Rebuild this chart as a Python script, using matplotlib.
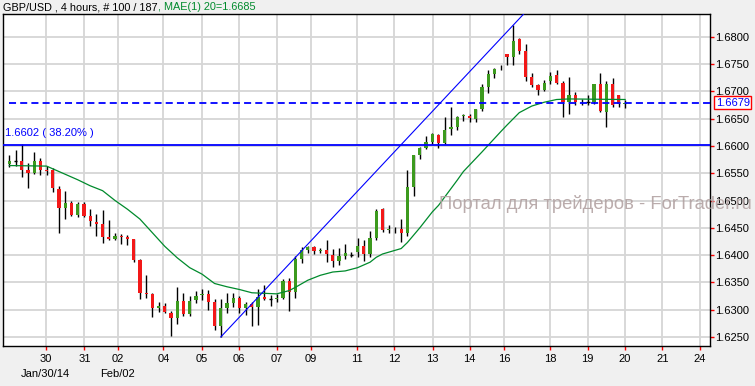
import matplotlib
matplotlib.use('Agg')
import matplotlib.pyplot as plt
import matplotlib.transforms as mtransforms

plt.rcParams['font.family'] = ['Liberation Sans', 'DejaVu Sans']

# 4-hour GBP/USD candles (open, high, low, close), index 0..99
opens = [1.6566, 1.6573, 1.6573, 1.6555, 1.6550, 1.6573, 1.6556, 1.6555, 1.6521, 1.6487,
         1.6496, 1.6474, 1.6494, 1.6472, 1.6461, 1.6457, 1.6434, 1.6430, 1.6435, 1.6434,
         1.6429, 1.6391, 1.6331, 1.6329, 1.6304, 1.6307, 1.6294, 1.6285, 1.6316, 1.6293,
         1.6318, 1.6326, 1.6329, 1.6314, 1.6271, 1.6303, 1.6312, 1.6321, 1.6303, 1.6311,
         1.6305, 1.6323, 1.6319, 1.6319, 1.6321, 1.6352, 1.6332, 1.6393, 1.6410, 1.6414,
         1.6408, 1.6410, 1.6401, 1.6389, 1.6398, 1.6400, 1.6405, 1.6417, 1.6402, 1.6431,
         1.6485, 1.6446, 1.6447, 1.6447, 1.6441, 1.6525, 1.6583, 1.6597, 1.6608, 1.6620,
         1.6606, 1.6631, 1.6635, 1.6654, 1.6655, 1.6650, 1.6667, 1.6708, 1.6731, 1.6742,
         1.6768, 1.6763, 1.6795, 1.6773, 1.6727, 1.6711, 1.6702, 1.6718, 1.6730, 1.6716,
         1.6680, 1.6694, 1.6680, 1.6680, 1.6680, 1.6713, 1.6663, 1.6713, 1.6694, 1.6676]
highs = [1.6584, 1.6593, 1.6604, 1.6569, 1.6589, 1.6578, 1.6563, 1.6559, 1.6527, 1.6518,
         1.6499, 1.6497, 1.6497, 1.6484, 1.6476, 1.6483, 1.6465, 1.6440, 1.6438, 1.6437,
         1.6430, 1.6392, 1.6363, 1.6330, 1.6314, 1.6312, 1.6298, 1.6342, 1.6330, 1.6325,
         1.6335, 1.6337, 1.6336, 1.6320, 1.6320, 1.6330, 1.6331, 1.6325, 1.6315, 1.6314,
         1.6337, 1.6346, 1.6326, 1.6328, 1.6357, 1.6358, 1.6398, 1.6415, 1.6417, 1.6416,
         1.6413, 1.6428, 1.6411, 1.6413, 1.6421, 1.6406, 1.6431, 1.6428, 1.6445, 1.6485,
         1.6487, 1.6455, 1.6452, 1.6467, 1.6556, 1.6584, 1.6598, 1.6619, 1.6623, 1.6622,
         1.6653, 1.6672, 1.6654, 1.6659, 1.6659, 1.6667, 1.6714, 1.6739, 1.6742, 1.6748,
         1.6769, 1.6821, 1.6797, 1.6786, 1.6733, 1.6714, 1.6721, 1.6736, 1.6739, 1.6718,
         1.6727, 1.6699, 1.6686, 1.6694, 1.6714, 1.6733, 1.6719, 1.6725, 1.6694, 1.6684]
lows = [1.6561, 1.6564, 1.6543, 1.6522, 1.6548, 1.6546, 1.6547, 1.6516, 1.6441, 1.6466,
        1.6472, 1.6469, 1.6469, 1.6454, 1.6435, 1.6423, 1.6427, 1.6427, 1.6420, 1.6418,
        1.6388, 1.6319, 1.6322, 1.6287, 1.6296, 1.6294, 1.6252, 1.6274, 1.6288, 1.6288,
        1.6312, 1.6318, 1.6300, 1.6262, 1.6250, 1.6294, 1.6305, 1.6294, 1.6290, 1.6271,
        1.6272, 1.6317, 1.6307, 1.6314, 1.6320, 1.6297, 1.6321, 1.6385, 1.6404, 1.6402,
        1.6404, 1.6387, 1.6379, 1.6381, 1.6393, 1.6396, 1.6396, 1.6389, 1.6397, 1.6428,
        1.6442, 1.6441, 1.6441, 1.6424, 1.6435, 1.6509, 1.6576, 1.6595, 1.6604, 1.6597,
        1.6604, 1.6620, 1.6629, 1.6645, 1.6644, 1.6643, 1.6664, 1.6696, 1.6724, 1.6739,
        1.6748, 1.6748, 1.6769, 1.6718, 1.6708, 1.6693, 1.6700, 1.6714, 1.6713, 1.6653,
        1.6659, 1.6675, 1.6675, 1.6675, 1.6676, 1.6662, 1.6635, 1.6672, 1.6672, 1.6670]
closes = [1.6573, 1.6573, 1.6556, 1.6551, 1.6573, 1.6556, 1.6554, 1.6523, 1.6487, 1.6496,
          1.6474, 1.6494, 1.6472, 1.6462, 1.6457, 1.6434, 1.6430, 1.6435, 1.6434, 1.6429,
          1.6391, 1.6331, 1.6329, 1.6304, 1.6307, 1.6296, 1.6285, 1.6316, 1.6293, 1.6316,
          1.6325, 1.6329, 1.6314, 1.6271, 1.6303, 1.6312, 1.6321, 1.6303, 1.6311, 1.6305,
          1.6323, 1.6319, 1.6319, 1.6321, 1.6352, 1.6332, 1.6393, 1.6410, 1.6414, 1.6407,
          1.6410, 1.6402, 1.6389, 1.6398, 1.6404, 1.6400, 1.6417, 1.6402, 1.6431, 1.6480,
          1.6446, 1.6447, 1.6448, 1.6441, 1.6525, 1.6583, 1.6597, 1.6608, 1.6622, 1.6606,
          1.6629, 1.6635, 1.6653, 1.6656, 1.6652, 1.6667, 1.6708, 1.6731, 1.6741, 1.6743,
          1.6762, 1.6792, 1.6773, 1.6727, 1.6711, 1.6702, 1.6716, 1.6728, 1.6716, 1.6680,
          1.6694, 1.6681, 1.6681, 1.6680, 1.6713, 1.6664, 1.6713, 1.6675, 1.6676, 1.6679]

# moving average line (candle index, value)
ma_idx = [0, 6, 7, 9, 11, 13, 15, 17, 19, 21, 23, 25, 27, 29, 31, 33, 35, 37, 39, 41,
          43, 45, 46, 48, 50, 52, 54, 56, 58, 59, 60, 63, 64, 66, 68, 69, 72, 73, 76, 79,
          80, 82, 84, 86, 88, 90, 99]
ma_val = [1.6564, 1.6563, 1.6558, 1.6548, 1.6538, 1.6527, 1.6518, 1.6500, 1.6484, 1.6466,
          1.6441, 1.6416, 1.6395, 1.6377, 1.6365, 1.6348, 1.6342, 1.6337, 1.6331, 1.6330,
          1.6329, 1.6335, 1.6341, 1.6354, 1.6363, 1.6369, 1.6371, 1.6377, 1.6387, 1.6396,
          1.6402, 1.6412, 1.6423, 1.6450, 1.6479, 1.6491, 1.6537, 1.6553, 1.6589, 1.6626,
          1.6638, 1.6661, 1.6673, 1.6680, 1.6685, 1.6686, 1.6685]

# trend line: from candle 34 low to candle 81 high
trend_from = (34, 1.6250)
trend_to = (81, 1.6821)
fib_level = 1.6602
last_price = 1.6679

day_pos = [5.86, 12.07, 17.44, 24.78, 30.96, 36.85, 43.02, 48.5, 55.9, 61.9,
           68.06, 74.01, 79.6, 87.0, 93.0, 98.95, 104.97, 110.97]
day_labels = ['30\nJan/30/14', '31', '02\nFeb/02', '04', '05', '06', '07', '09', '11', '12',
              '13', '14', '16', '18', '19', '20', '21', '24']
price_ticks = [1.6250, 1.6300, 1.6350, 1.6400, 1.6450, 1.6500, 1.6550, 1.6600,
               1.6650, 1.6700, 1.6750, 1.6800]

green = '#3c9a1e'
red = '#f21818'

fig = plt.figure(figsize=(7.55, 3.86), dpi=100, facecolor='#f0f0f0')
ax = fig.add_axes([3 / 755, 1 - 346 / 386, 707 / 755, 332 / 386])
ax.set_facecolor('white')

xs = list(range(len(opens)))
ax.vlines(xs, lows, highs, color='black', lw=1.0, zorder=3)
for i in xs:
    o, c = opens[i], closes[i]
    if o == c:
        ax.hlines(o, i - 0.3, i + 0.3, color='black', lw=1.0, zorder=4)
        continue
    col = green if c > o else red
    h = max(abs(c - o), 0.00012)
    ax.bar(i, h, bottom=min(o, c), width=0.52, color=col, linewidth=0, zorder=4)

ax.plot(ma_idx, ma_val, color='#008a2c', lw=0.9, zorder=5)

# trend ray extended past the high, clipped by the axes
slope = (trend_to[1] - trend_from[1]) / (trend_to[0] - trend_from[0])
ext_x = 100
ax.plot([trend_from[0], ext_x], [trend_from[1], trend_from[1] + slope * (ext_x - trend_from[0])],
        color='#0000ff', lw=0.8, zorder=5)

ax.axhline(fib_level, color='#0000ff', lw=1.3, zorder=5)
ax.text(-0.7, fib_level + 0.0022, '1.6602 ( 38.20% )', color='#0000ff', fontsize=8,
        ha='left', va='center', zorder=6)
ln = ax.axhline(last_price, xmin=0.009, color='#0000ff', lw=1.3, zorder=5)
ln.set_dashes((3.9, 2.3))

ax.set_xlim(-1.01, 112.65)
ax.set_ylim(1.62335, 1.68416)

ax.set_xticks(day_pos)
ax.set_xticklabels(day_labels, fontsize=8, linespacing=1.55, va='top')
ax.set_yticks(price_ticks)
ax.set_yticklabels(['%.4f' % p for p in price_ticks], fontsize=8)
ax.yaxis.tick_right()
ax.tick_params(axis='both', colors='red', length=3, width=1, direction='out', labelcolor='black')
ax.tick_params(axis='x', pad=3)
ax.tick_params(axis='y', pad=1)
ax.grid(True, color='#d6d6d6', lw=1.3, zorder=0)
ax.set_axisbelow(True)
for s in ax.spines.values():
    s.set_color('black')
    s.set_linewidth(1.0)

# current price box on the right axis
trans = mtransforms.blended_transform_factory(ax.transAxes, ax.transData)
ax.text(1.008, last_price, '1.6679', transform=trans, color='#0000ff', fontsize=8,
        ha='left', va='center', zorder=7,
        bbox=dict(boxstyle='square,pad=0.15', fc='white', ec='red', lw=1))

# header
t1 = fig.text(3 / 755, 1 - 7 / 386, 'GBP/USD , 4 hours, # 100 / 187', fontsize=7.8,
              color='black', ha='left', va='center')
fig.canvas.draw()
bb = t1.get_window_extent(fig.canvas.get_renderer())
fig.text(bb.x1 / 755, 1 - 7 / 386, ', MAE(1) 20=1.6685', fontsize=7.8, color='#008a2c',
         ha='left', va='center')

# watermark
fig.text(439 / 755, 1 - 204 / 386, 'Портал для трейдеров - ForTrader.ru', fontsize=13.2,
         color='#b3a3a3', alpha=0.9, ha='left', va='center', zorder=10)

fig.savefig('out.png', dpi=100, facecolor=fig.get_facecolor())
